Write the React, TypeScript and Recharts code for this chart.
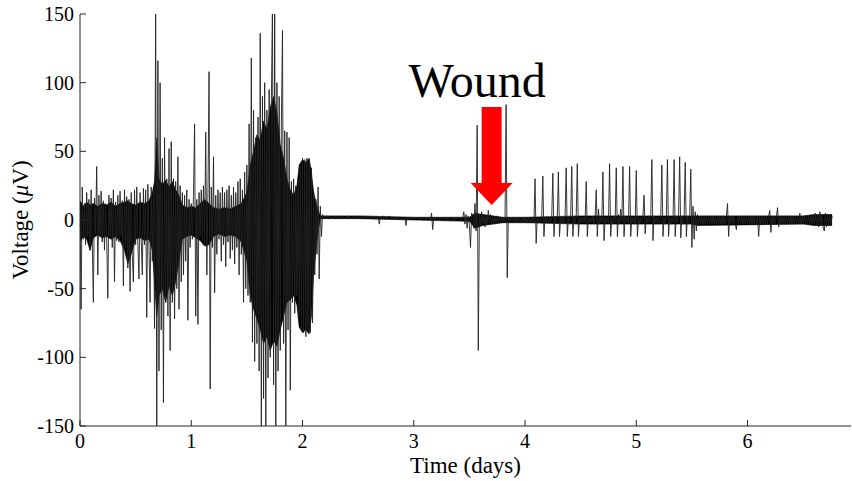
import React from 'react';
import { ComposedChart, Line, Area, XAxis, YAxis, ReferenceDot } from 'recharts';

// sampling step of the recording (days per sample)
const DT = 0.01;

// voltage samples (µV), day 0.00 - 0.99
const seg0 = [
  6, -65, 24, -14, 12, -18, 20, -12, 15, -22,
  22, -15, -60, 16, -10, 39, -40, 18, -12, 21,
  -16, 14, -22, 12, -14, -57, 18, -12, 16, -20,
  22, -45, 13, -15, 18, -16, 21, -12, 14, -48,
  22, -20, 17, -35, 15, -52, 20, -26, -45, 22,
  -18, 24, -16, -43, 20, -14, -40, 23, -18, 22,
  -71, 26, -20, -60, 24, -30, 22, -79, 160, -160,
  116, -110, 100, -80, 45, -133, 60, -60, 30, -70,
  52, -95, 57, -60, 30, -72, 28, -50, 46, -65,
  25, -45, 20, -40, 18, -30, 22, -73, 15, -20,
];
// day 1.00 - 1.99
const seg1 = [
  12, -14, 18, 70, -70, 15, -76, 20, -12, 22,
  -15, 25, -18, 64, -40, 20, 108, -123, 24, -20,
  46, -53, 18, -25, 22, -14, 20, -30, 24, -18,
  20, -34, 22, -16, 25, -28, 18, -22, 24, -32,
  20, -20, 28, -40, 30, -25, 22, -60, 35, -50,
  40, -55, 70, -60, 118, -89, 80, -103, 60, -90,
  75, -110, 136, -160, 90, -130, 100, -160, 80, -115,
  95, -100, 85, 160, -120, 160, -160, 100, -110, 90,
  -95, 70, 138, -90, 65, -160, 64, -80, 60, -124,
  28, -60, 30, -68, 25, -55, 30, -70, 40, -80,
];
// day 2.00 - 2.99
const seg2 = [
  45, -82, 44, -85, 45, -80, 42, -82, 38, -75,
  20, -40, 15, -25, 24, -43, 10, -12, 4, 1,
  3, 1, 3, 2, 3, 1, 2, 1, 3, 2,
  3, 1, 2, 1, 3, 2, 3, 1, 2, 1,
  3, 2, 3, 1, 2, 1, 3, 1, 2, 2,
  3, 1, 2, 1, 3, 2, 2, 1, 3, 1,
  2, 1, 3, 2, 2, 1, 3, 1, 2, -3,
  2, 1, 3, 1, 2, 1, 2, 1, 3, 1,
  2, 1, 2, 0, 2, 1, 2, 0, 2, 1,
  2, 0, 2, -4, 2, 1, 2, 0, 2, 1,
];
// day 3.00 - 3.99
const seg3 = [
  2, 0, 2, 1, 2, 0, 2, 0, 2, 1,
  2, 0, 2, 1, 2, 0, 5, -7, 2, 0,
  2, 1, 2, 0, 2, 0, 2, 1, 2, 0,
  2, 0, 2, 1, 2, 0, 2, 0, 2, 1,
  2, 0, 2, 0, 2, 6, -3, 4, -6, 3,
  -4, -20, 5, 3, -6, 12, -8, 69, -95, 4,
  -4, 6, -3, 4, -5, 3, -3, 7, -2, 4,
  -3, 3, -3, 2, -2, 3, -2, 2, -2, 2,
  -1, 2, -1, 84, -42, 2, -2, 2, -1, 2,
  -1, 2, -2, 2, -1, 2, -2, 2, -1, 2,
];
// day 4.00 - 4.99
const seg4 = [
  -2, 2, -2, 2, -2, 2, -2, 2, -2, 30,
  -17, 2, -2, 2, -2, 2, 32, -12, 2, -2,
  2, -2, 2, -2, 2, 34, -12, 2, -2, 2,
  35, -12, 2, -2, 2, -2, 2, 38, -12, 2,
  -2, 2, 39, -12, 2, -2, 2, 41, -12, 2,
  -2, 2, -2, 2, -2, 28, -12, 2, -2, 2,
  -2, 3, -3, 2, 22, -12, 8, -3, 2, -2,
  35, -15, 2, -2, 2, -2, 41, -12, 2, -3,
  3, -2, 38, -12, 4, -3, 8, -2, 39, -12,
  3, -2, 2, -2, 39, -12, 2, -2, 2, -3,
];
// day 5.00 - 5.99
const seg5 = [
  36, -12, 2, -3, 2, -2, 3, 18, -10, 2,
  -2, 3, -2, 2, 44, -15, 3, -2, 2, -3,
  2, -2, 3, 40, -12, 2, -3, 2, 44, -12,
  2, -3, 2, -2, 44, -12, 3, -2, 2, 46,
  -13, 3, -3, 2, 42, -12, 3, -3, 2, 37,
  -20, 10, -14, 6, -8, 4, -4, 3, -3, 3,
  -3, 3, -3, 3, -3, 3, -3, 3, -3, 3,
  -3, 3, -3, 3, -3, 3, -3, 3, -3, 3,
  -3, 3, 12, -12, 3, -3, 3, -3, 3, -3,
  -7, 3, -3, 3, -3, 3, -3, 3, -3, 3,
];
// day 6.00 - 6.76
const seg6 = [
  -3, 3, -3, 3, -3, 3, -3, 3, -3, 3,
  -12, 3, -3, 3, -3, 3, -3, 3, -3, 3,
  7, -9, 3, -3, 3, -3, 3, 9, -5, 3,
  -3, 3, -3, 3, -3, 3, -3, 3, -3, 3,
  -3, 3, -3, 3, -3, 3, -3, 5, -3, 3,
  -3, 3, -3, 3, -3, 3, -3, 3, -3, 4,
  -4, 5, -4, 4, -5, 6, -4, 4, -5, -8,
  5, -5, 4, -4, 4, -3, 3,
];

// dense (solid black) core of the trace: time (days), upper and lower edge (µV)
const CORE_T = [
  0, 0.03, 0.06, 0.09, 0.12, 0.16, 0.2, 0.24, 0.28, 0.32,
  0.36, 0.4, 0.43, 0.46, 0.5, 0.54, 0.58, 0.62, 0.65, 0.67,
  0.69, 0.71, 0.74, 0.77, 0.8, 0.83, 0.86, 0.89, 0.92, 0.96,
  1.0, 1.04, 1.08, 1.12, 1.16, 1.2, 1.25, 1.3, 1.35, 1.4,
  1.45, 1.5, 1.53, 1.56, 1.59, 1.62, 1.65, 1.68, 1.71, 1.74,
  1.77, 1.8, 1.83, 1.86, 1.89, 1.92, 1.95, 1.97, 2.0, 2.03,
  2.06, 2.08, 2.1, 2.13, 2.16, 2.5, 3.0, 3.5, 3.55, 3.62,
  3.8, 4.0, 4.5, 5.5, 5.55, 6.5, 6.6, 6.76,
];
const CORE_HI = [
  14, 10, 13, 11, 12, 10, 12, 11, 13, 10,
  12, 13, 14, 12, 11, 13, 12, 14, 20, 28,
  60, 30, 26, 29, 24, 28, 22, 18, 11, 9,
  10, 9, 12, 15, 12, 9, 8, 9, 8, 10,
  12, 20, 40, 50, 62, 58, 72, 66, 82, 90,
  78, 55, 45, 30, 22, 18, 25, 40, 44, 42,
  45, 35, 20, 10, 3, 3, 2, 2, 5, 4,
  2, 2, 3, 3, 3, 3, 4, 4,
];
const CORE_LO = [
  -16, -12, -14, -22, -13, -11, -13, -12, -14, -12,
  -15, -22, -32, -25, -14, -13, -15, -14, -22, -45,
  -70, -55, -50, -60, -48, -55, -45, -30, -14, -12,
  -11, -13, -15, -19, -18, -12, -10, -12, -11, -12,
  -16, -30, -55, -65, -72, -80, -90, -85, -95, -88,
  -92, -80, -70, -60, -58, -55, -62, -78, -82, -80,
  -83, -70, -40, -15, 1, 1, 0, -1, -6, -4,
  -2, -2, -3, -3, -4, -3, -4, -4,
];

const X_TICKS = [0, 1, 2, 3, 4, 5, 6];
const Y_TICKS = [-150, -100, -50, 0, 50, 100, 150];
const X_DOMAIN: [number, number] = [0, 6.93];
const Y_DOMAIN: [number, number] = [-150, 150];

// annotation: arrow tip location (days, µV)
const WOUND_T = 3.7;
const WOUND_V = 11;
const WOUND_LABEL = 'Wound';

const values = [...seg0, ...seg1, ...seg2, ...seg3, ...seg4, ...seg5, ...seg6];
const data = values.map((v, i) => ({ t: Math.round(i * DT * 100) / 100, v }));
const coreData = CORE_T.map((t, i) => ({ t, band: [CORE_LO[i], CORE_HI[i]] }));

const FONT = "'Liberation Serif', 'Times New Roman', 'DejaVu Serif', serif";
const AXIS = '#262626';

const WoundShape = (p: any) => {
  const cx = p.cx;
  const cy = p.cy;
  if (cx == null || cy == null) return null;
  const pts = [
    [cx - 10, cy - 98],
    [cx + 10, cy - 98],
    [cx + 10, cy - 22],
    [cx + 21, cy - 22],
    [cx, cy],
    [cx - 21, cy - 22],
    [cx - 10, cy - 22],
  ]
    .map((q) => q.join(','))
    .join(' ');
  return (
    <g>
      <text x={cx - 14.5} y={cy - 108} textAnchor="middle" style={{ fontFamily: FONT, fontSize: 48 }} fill="#000">
        {WOUND_LABEL}
      </text>
      <polygon points={pts} fill="#ff0000" stroke="none" />
    </g>
  );
};

const XLabel = (p: any) => {
  const vb = p.viewBox || {};
  return (
    <text x={vb.x + vb.width / 2} y={vb.y + 47} textAnchor="middle" style={{ fontFamily: FONT, fontSize: 23 }} fill="#000">
      Time (days)
    </text>
  );
};

const YLabel = (p: any) => {
  const vb = p.viewBox || {};
  const cy = vb.y + vb.height / 2;
  const x = 28;
  return (
    <text x={x} y={cy} transform={`rotate(-90, ${x}, ${cy})`} textAnchor="middle" style={{ fontFamily: FONT, fontSize: 23 }} fill="#000">
      <tspan>Voltage (</tspan>
      <tspan fontStyle="italic">μ</tspan>
      <tspan>V)</tspan>
    </text>
  );
};

export default function App() {
  const tickStyle = { fill: '#000', fontSize: 20, style: { fontFamily: FONT } };
  return (
    <div style={{ position: 'absolute', left: 0, top: 0, width: 852, height: 481, background: '#fff', fontFamily: FONT }}>
      <ComposedChart width={852} height={481} data={data} margin={{ top: 14, right: 1, bottom: 0, left: 0 }}>
        <XAxis
          xAxisId="b"
          dataKey="t"
          type="number"
          domain={X_DOMAIN}
          ticks={X_TICKS}
          interval={0}
          allowDataOverflow
          height={55}
          tickSize={-6}
          tickMargin={14}
          stroke={AXIS}
          tick={tickStyle}
          label={{ content: XLabel }}
        />
        <XAxis
          xAxisId="t"
          dataKey="t"
          orientation="top"
          type="number"
          domain={X_DOMAIN}
          ticks={X_TICKS}
          interval={0}
          allowDataOverflow
          height={0}
          tickSize={-6}
          tickFormatter={() => ''}
          stroke={AXIS}
        />
        <YAxis
          yAxisId="l"
          type="number"
          domain={Y_DOMAIN}
          ticks={Y_TICKS}
          interval={0}
          allowDataOverflow
          width={80}
          tickSize={-6}
          tickMargin={12}
          stroke={AXIS}
          tick={tickStyle}
          label={{ content: YLabel }}
        />
        <YAxis
          yAxisId="r"
          orientation="right"
          type="number"
          domain={Y_DOMAIN}
          ticks={Y_TICKS}
          interval={0}
          allowDataOverflow
          width={0}
          tickSize={-6}
          tickFormatter={() => ''}
          stroke={AXIS}
        />
        <ReferenceDot
          xAxisId="b"
          yAxisId="l"
          x={WOUND_T}
          y={WOUND_V}
          r={0}
          ifOverflow="visible"
          shape={WoundShape}
        />
        <Area
          xAxisId="b"
          yAxisId="l"
          data={coreData}
          dataKey="band"
          type="linear"
          stroke="#000"
          strokeWidth={0.6}
          fill="#000"
          fillOpacity={1}
          dot={false}
          activeDot={false}
          isAnimationActive={false}
        />
        <Line
          xAxisId="b"
          yAxisId="l"
          dataKey="v"
          type="linear"
          stroke="#222"
          strokeWidth={0.9}
          dot={false}
          activeDot={false}
          isAnimationActive={false}
        />
        <Line
          xAxisId="t"
          yAxisId="r"
          dataKey="v"
          type="linear"
          stroke="none"
          strokeOpacity={0}
          dot={false}
          activeDot={false}
          isAnimationActive={false}
          legendType="none"
        />
      </ComposedChart>
    </div>
  );
}
